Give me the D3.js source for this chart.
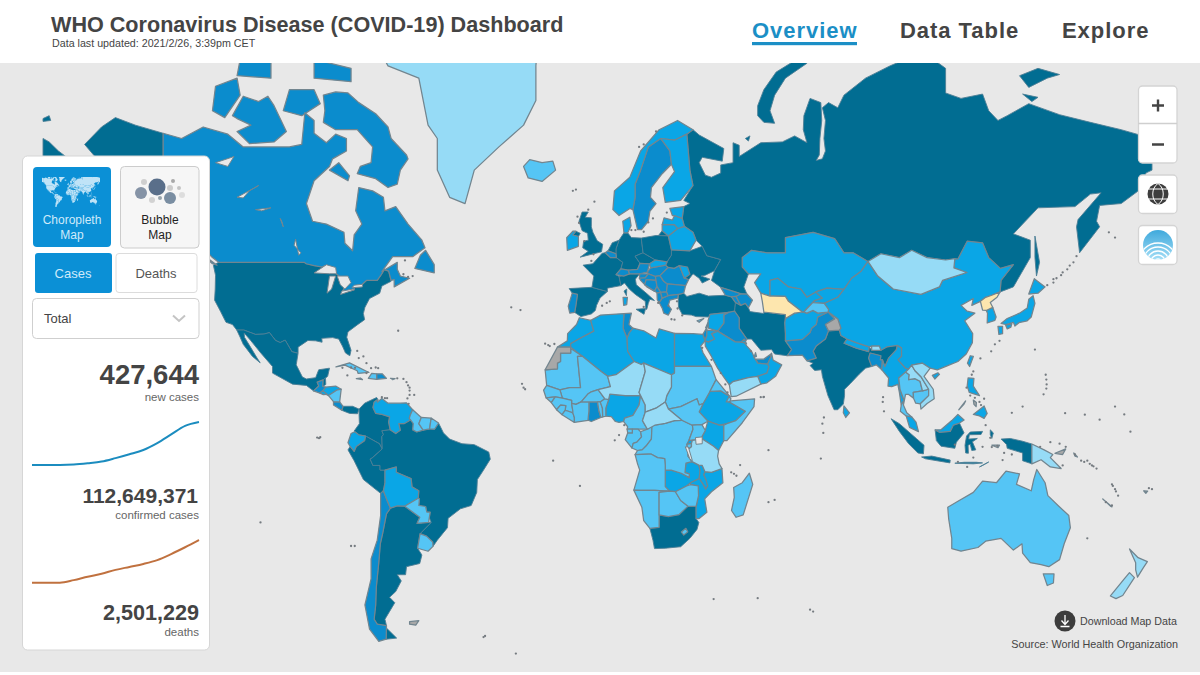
<!DOCTYPE html>
<html><head><meta charset="utf-8">
<script src="https://cdn.jsdelivr.net/npm/d3@7/dist/d3.min.js"></script>
<style>
html,body{margin:0;padding:0;background:#fff}
svg{display:block;font-family:"Liberation Sans",Arial,sans-serif}
</style></head><body><svg id="c" width="1200" height="675"></svg>
<script>
// ---------- DATA ----------
const titleText="WHO Coronavirus Disease (COVID-19) Dashboard";
const updatedText="Data last updated: 2021/2/26, 3:39pm CET";
const navItems=["Overview","Data Table","Explore"];
const statValues=["427,644","112,649,371","2,501,229"];
const statLabels=["new cases","confirmed cases","deaths"];
const trendCases=[0,0,0,1,4,8,16,25,35,51,71,91,100];
const trendDeaths=[0,0,0,6,14,21,30,37,44,53,67,83,100];

// Country outlines as [lon,lat] rings, grouped by choropleth bin: [name, ring, ring...]
const binHighest=[
["United States",[[-124.7,48.4],[-123,49],[-95.2,49],[-94.6,48.7],[-92,48.3],[-89.5,48],[-88.4,48.3],[-84.8,46.5],[-82.5,45.3],[-82.1,43.5],[-83,42],[-79,42.8],[-79,43.3],[-76.5,44],[-75,45],[-71.5,45],[-70.3,46.2],[-69.2,47.4],[-67.8,47.1],[-67,44.8],[-70,43.7],[-70.7,42],[-74,40.7],[-75.5,38.5],[-76,36.9],[-75.6,35.3],[-78,33.9],[-81,32],[-81.4,30.5],[-80,26.8],[-80.4,25.2],[-81.8,26],[-82.8,28],[-84,30],[-86,30.4],[-89.5,30.2],[-89.4,29.1],[-91.5,29.5],[-94,29.6],[-97.2,27.7],[-97.2,25.9],[-99.2,26.4],[-101.4,29.7],[-103,29],[-104.5,29.6],[-106.5,31.8],[-108.2,31.4],[-111,31.3],[-114.8,32.5],[-117.1,32.5],[-118.5,34],[-120.6,34.6],[-122.4,37.5],[-124.3,40.3],[-124.1,43],[-124,46.2]],
 [[-141,69.6],[-141,60.3],[-137.5,58.9],[-135,59.5],[-130,55],[-133,55.2],[-136,58],[-140,59.7],[-146,60.8],[-151,59.3],[-153,58.5],[-158,56.5],[-164,54.7],[-160,58.5],[-162,60],[-165.5,61.5],[-164,63.2],[-161,64.4],[-166,64.6],[-168,65.6],[-162.5,66.5],[-166.5,68.3],[-161,70.3],[-156.5,71.3],[-150,70.5]]],
["Mexico",[[-117.1,32.5],[-114.8,32.5],[-111,31.3],[-108.2,31.4],[-106.5,31.8],[-104.5,29.6],[-103,29],[-101.4,29.7],[-99.2,26.4],[-97.2,25.9],[-97.8,22.5],[-95.8,18.8],[-94.5,18.2],[-91.5,18.6],[-90.5,21],[-87,21.5],[-87.6,19],[-88.3,18.5],[-89.1,17.9],[-91,17.2],[-90.5,16],[-92.2,14.5],[-94.5,16.2],[-99,16.6],[-105.5,20],[-105.5,22],[-109.3,26],[-112.5,29.5],[-114.7,31.7],[-114.6,30.5],[-112.5,27.5],[-110.5,24.5],[-109.5,23.1],[-112,25],[-115,28.5],[-116,30.5]]],
["Panama",[[-83,8.3],[-82.6,9.6],[-79.5,9.6],[-77.4,8.7],[-77.9,7.2],[-80.4,7.3],[-81.5,7.7]]],
["Belize",[[-89.1,17.9],[-88.3,18.5],[-88.2,16.5],[-89.2,15.9]]],
["Colombia",[[-77.4,8.7],[-75.6,10.6],[-71.7,12.4],[-71.3,11.8],[-72.5,11],[-72.9,9.2],[-72,7.3],[-70,7],[-67.5,6.2],[-67.8,4.5],[-67.3,2],[-70,1.7],[-69.5,0.5],[-70,-0.2],[-69.9,-4.2],[-70.8,-2.5],[-73.5,-1],[-75.3,0],[-77.5,0.4],[-79,1.6],[-77.3,4],[-77.4,7]]],
["Peru",[[-81,-4.5],[-80.3,-3.4],[-79,-5],[-78.3,-3.4],[-75.6,-1.5],[-75.3,0],[-73.5,-1],[-70.8,-2.5],[-69.9,-4.2],[-73,-7],[-73.8,-7.5],[-72.9,-9.5],[-70.6,-9.5],[-70.6,-11],[-69,-11],[-69,-15],[-69.5,-17.5],[-70.4,-18.3],[-76,-14],[-79,-8]]],
["Brazil",[[-51.6,4.2],[-50,1],[-48,-1],[-44,-2.5],[-40,-2.8],[-35.3,-5.2],[-34.8,-7.5],[-37,-11],[-39,-14],[-39.2,-18],[-41,-22],[-44.5,-23],[-48.5,-25.8],[-48.7,-28.5],[-52,-32],[-53.4,-33.7],[-53.5,-32.5],[-55.5,-30.9],[-57.6,-30.2],[-54,-27],[-54.6,-25.6],[-54.3,-24],[-55.4,-24],[-55.8,-22.3],[-58,-22],[-57.8,-20],[-58.2,-19.8],[-58,-17.5],[-60.2,-16.3],[-60.5,-13.7],[-65.3,-11.7],[-65.3,-10],[-69,-11],[-70.6,-11],[-70.6,-9.5],[-72.9,-9.5],[-73.8,-7.5],[-73,-7],[-69.9,-4.2],[-70,-0.2],[-69.5,0.5],[-70,1.7],[-67.3,2],[-65.5,0.8],[-64,1.9],[-64.5,4],[-62.8,4],[-60.7,5.2],[-59.8,4],[-60,2],[-58.7,1.3],[-56.6,1.9],[-54.5,2.3],[-52.9,2.2]]],
["Argentina",[[-67.2,-22.8],[-65,-22.1],[-62.6,-22.2],[-57.7,-25.5],[-58.6,-27.3],[-54.8,-27],[-54,-27],[-57.6,-30.2],[-58.4,-34.2],[-57,-36],[-57.7,-38.2],[-62,-39],[-62.3,-41],[-65,-41],[-63.7,-42.5],[-65.5,-45],[-67.5,-46.3],[-65.8,-47.5],[-69,-51],[-68.5,-52.3],[-71.5,-52],[-72.5,-51],[-72,-48],[-71.8,-44],[-71,-38],[-70.5,-33],[-69.7,-30],[-68.5,-24.5]],
 [[-68.6,-52.7],[-65.2,-54.7],[-68.6,-54.9]]],
["South Africa",[[17,-28.7],[20,-28.4],[20,-24.8],[23,-25.3],[26.5,-24.7],[29.4,-22.2],[32,-22.3],[32,-25.9],[32.9,-27],[32.3,-29],[30,-31.5],[27,-33.8],[22,-34.2],[18.5,-34.3],[18,-32]]],
["Spain",[[-9.2,43.1],[-1.8,43.4],[3.2,42.4],[0.8,40.8],[-0.3,39],[-0.7,37.7],[-2,36.8],[-5.4,36.1],[-7.4,37.2],[-7,39],[-6.5,41.7],[-8.2,42]]],
["France",[[-1.8,43.4],[-1.2,46],[-4.7,48.4],[-1.5,48.7],[1.5,50.9],[2.5,51],[4.2,50],[6.1,50],[8.2,49],[7.6,47.6],[6,46.3],[7,45.9],[7.6,43.8],[3.2,43.2],[3.2,42.4]],[[8.6,42.5],[9.5,43],[9.4,41.4]]],
["United Kingdom",[[-5.6,50.1],[1.3,51.2],[1.7,52.7],[-0.1,53.4],[-1.5,55],[-2,56],[-2,57.6],[-4,57.7],[-3,58.6],[-5,58.6],[-6,57],[-5,55.3],[-3.2,54.8],[-3,53.5],[-4.5,53.3],[-4.8,52],[-3,51.3]],[[-8,54.5],[-6.2,54.2],[-5.6,54.8],[-7,55.2]]],
["Germany",[[6,51.8],[7,53.5],[8.6,54.9],[9.8,54.9],[11,54],[14.2,53.9],[14.8,51],[12.2,50.3],[13.8,48.8],[13,47.5],[10,47.3],[7.6,47.6],[8.2,49],[6.1,50],[6,50.8]]],
["Netherlands",[[3.4,51.4],[4.8,53],[7,53.5],[6,51.8],[6,50.8]]],
["Italy",[[7,45.9],[10.4,46.5],[13.7,46.5],[12.3,45.3],[12.6,44],[16,41.9],[18.5,40.2],[17,40.5],[16.5,39.5],[16,38],[15.7,38],[15.5,40],[12.3,41.7],[10.3,43],[8.8,44.4],[7.6,43.8]],[[12.5,38],[15.6,38.2],[15.1,36.7]]],
["Czechia",[[12.2,50.3],[14.8,51],[18.8,49.5],[16.9,48.7],[13.8,48.8]]],
["Poland",[[14.2,53.9],[19,54.4],[23,54.3],[24,51.6],[24,50.5],[22.6,49.1],[18.8,49.5],[14.8,51]]],
["Ukraine",[[22.1,48.4],[22.6,49.1],[24,50.5],[24,51.6],[30,51.4],[34,52.3],[35.5,50.4],[40,49.6],[38,47.2],[35,46.2],[33.6,46],[36.5,45.3],[34,44.4],[33,45.5],[31,46.5],[29.6,45.2],[28.2,45.5],[26.6,48.3],[24.9,47.7],[22.9,47.9]]],
["Russia",[[28,59.5],[30,60],[28,60.5],[31,62.8],[30,65],[29,69.5],[31,70],[33,69.4],[41,67.8],[40.5,66.2],[34,66.7],[33,66],[35,64.3],[37,64],[40,64.6],[40,65.7],[44,66],[44,68.5],[46,68.2],[46,66.8],[53,68.5],[60,68.6],[64,69.3],[68,68.5],[66.8,70],[67,71.5],[69,73.2],[72.5,72.8],[72.8,71],[72.2,69],[72,67],[71,66.3],[73,66.5],[74,67.5],[73.5,69],[74,71],[73,72.3],[75,72.8],[78,72.3],[80,73.5],[87,75],[95,76],[100,76.5],[104,77.7],[106,77],[113,75.8],[113,73.7],[118,73.2],[125,73.6],[127,72],[130,71],[133,71.5],[140,72.7],[150,71.6],[160,70.8],[170,70],[180,69],[180,65],[178,64.6],[177,62.5],[170,60],[163,59.7],[162,57],[163,56],[156.5,51],[155.5,56],[156,57.3],[163.5,61.7],[160,61.5],[155,59.5],[143,59.3],[135,54.7],[140.5,53.5],[140.5,50],[135,43.5],[130.7,42.3],[131,45],[135,48.5],[130.8,47.7],[127,50],[125,53],[120,53.3],[117,49.7],[113,49.5],[107,50],[102,51.5],[98,50],[92,50.8],[87.8,49.2],[83,51],[80,51],[77,53.8],[70,55],[61,54],[61,51],[55,51],[50,51.5],[47,50],[47,48],[49,46.5],[47.5,43.5],[48.5,41.8],[46,42],[40,43.4],[37,45],[38,47.2],[40,49.6],[35.5,50.4],[34,52.3],[32,53.5],[31,55],[28.2,56.1],[27.5,57.5]],
 [[52,71.5],[52,72.5],[54,74],[58,75.5],[64,76.4],[68.8,76.9],[68,76.2],[61,75],[57.5,73.5],[56,72],[57.5,70.7],[54,70.8]],[[142,54.3],[143.5,49],[142.5,46],[142,50]],[[19.8,54.4],[22.8,54.4],[21,55.3]],[[48,69],[49.5,69.3],[49,68.7]],[[96,80],[105,78.5],[100,78]],[[137,75.2],[143,75.8],[150,75.3],[146,75],[140,74.2]],[[138,73.6],[143,73.3],[141,72.9]],
 [[-180,69],[-178,68.6],[-175,67.5],[-170,66],[-172.5,64.5],[-176,65.3],[-178,65.5],[-180,65]],[[-180,71.2],[-178,71.5],[-177.5,71],[-180,70.9]]],
["Turkey",[[26.3,41.7],[28,42],[29,41.2],[33,42],[36,41.3],[41.5,41.5],[43.5,41.1],[44.8,39.7],[44.5,37.5],[42.5,37.2],[36.5,36.7],[36,36],[32,36.1],[30.5,36.5],[27.5,36.7],[26.3,38.5],[26.2,40]]],
["Iran",[[44.8,39.7],[46.5,39],[48,39.5],[49,38.4],[49.5,37.4],[54,36.9],[54,37.3],[61,36.6],[61,35.6],[60.8,34.5],[61,31.5],[61,29.5],[63,27],[61.6,25.2],[57.5,25.7],[56.5,27],[53,26.8],[50,30],[48.5,30],[46,33],[46,35.8],[44.5,37.5]]],
["India",[[75,32.3],[78.5,32.5],[79,31],[81,30],[80,28.8],[84,27.4],[88,26.4],[88.2,27.8],[89,26.8],[92,26.8],[94,27.8],[97.3,28.2],[97,27],[94.5,24.5],[93.3,22],[92.5,24],[91.8,24],[92,25.2],[88.5,26],[88,24.5],[89,22],[87,21.5],[85,19.7],[82,16.7],[80.2,15],[80.2,13],[79.8,10.3],[78,8.5],[76.8,8.5],[74.8,13],[73,19],[72.7,21],[70.5,20.8],[69,22.3],[70,23],[68,23.7],[71,24.5],[70,26.5],[71,28],[74,30]]],
["Indonesia",[[109.6,2],[111,1.2],[114.5,1.5],[115.5,3.5],[117.5,4.2],[119,1],[116.5,-2],[116,-4],[111.5,-3.3],[110,-1.5]],[[95.3,5.6],[98,4],[103.5,-0.8],[106,-3],[105.8,-5.8],[104,-5.5],[101,-2.5],[98,1.5]],[[105.2,-6.8],[108.5,-6.5],[114.5,-7.8],[114.4,-8.7],[106.5,-7.4]],[[119.5,-5.5],[119.3,-3],[119.8,0],[121,1.3],[125,1.5],[124.5,0.5],[120.7,0.4],[120.5,-1],[123.3,-0.8],[121.7,-1.9],[122.8,-4.5],[121.5,-4.7],[121,-2.7],[120.3,-3],[120.4,-5.6]],[[131,-1],[134,-0.8],[138,-1.7],[141,-2.6],[141,-9],[138,-8],[138,-5.5],[133,-4],[132.8,-2.8]],[[116,-8.8],[119,-8.5],[123,-8.5],[125,-8.7],[122,-9]],[[124,-10],[127,-8.4],[125,-9.5]],[[127.5,2],[128.5,1],[128,-0.8],[127.5,0.5]]]
];
const binHigh=[
["Canada",[[-141,69.6],[-135,69],[-128,70.3],[-120,69.5],[-115,68],[-108,68],[-100,68],[-96,68.3],[-95,71.8],[-92,71],[-92,69.6],[-88,68.5],[-85,69.5],[-81.5,69],[-81.5,67.5],[-86,66.5],[-87,65.5],[-92,63.5],[-94.5,60],[-92.5,57],[-88,56.5],[-82.3,55],[-82,52.9],[-79.5,51.4],[-79,54.5],[-76.5,56.5],[-78.5,58.8],[-77.5,62.5],[-73,62],[-69.5,61],[-69,58.8],[-65.5,59.5],[-61.5,56.5],[-57,53.5],[-56,52],[-60,50.2],[-66.5,50.2],[-70,47],[-65,49],[-65,47.5],[-64,46],[-61,45.5],[-66,43.5],[-66,45.2],[-67,45],[-67.8,47.1],[-69.2,47.4],[-70.3,46.2],[-71.5,45],[-75,45],[-76.5,44],[-79,43.3],[-79,42.8],[-83,42],[-82.1,43.5],[-82.5,45.3],[-84.8,46.5],[-88.4,48.3],[-89.5,48],[-92,48.3],[-94.6,48.7],[-95.2,49],[-123,49],[-125,50],[-128,52],[-130,55],[-135,59.5],[-137.5,58.9],[-141,60.3]],
 [[-89,73.5],[-85,73.8],[-81,73.7],[-77.5,72.8],[-72,71.7],[-68,70.3],[-67,69],[-62,67],[-61.5,66.5],[-64,65],[-65,63],[-68,62.5],[-72,63.8],[-78,64.5],[-77,65.5],[-73.5,66],[-73,68],[-78,70],[-85,70],[-89,70.8],[-88.5,72]],[[-118.5,71.5],[-115,73.4],[-110,72.9],[-107,73.4],[-105,72.5],[-101,69.8],[-105,68.6],[-113,68.4],[-117,69.8],[-112.5,70.5],[-117,71.2]],[[-125,72],[-121,71.3],[-116,73.5],[-117,75],[-124,74.3]],[[-90,76.5],[-80,76.3],[-75,78.5],[-65,81.5],[-62,83],[-75,83],[-90,82],[-90,80]],[[-92,75],[-80,74.7],[-80,75.8],[-92,76.5]],[[-117,75.2],[-106,75],[-106,76.5],[-116,76.5]],[[-102,72],[-96,71.5],[-90,72.7],[-92,74],[-100,74]],[[-87,65],[-81,63.5],[-80.5,64.2],[-84,66]],[[-59.3,47.7],[-53,46.7],[-53,48.5],[-55.8,51.5],[-57.5,50.5]],[[-128.3,50.7],[-123.5,48.4],[-125,48.7]],[[-133,54],[-131.5,52.5],[-131.8,54]],[[-95,80],[-88,78.5],[-87,81],[-95,81]]],
["Guatemala",[[-92.2,14.5],[-90.5,16],[-91,17.2],[-89.1,17.9],[-89.2,15.9],[-88.2,15.7],[-89.2,14.5],[-90.1,13.8]]],
["Costa Rica",[[-85.7,11.1],[-83.7,11],[-82.6,9.6],[-83,8.3],[-85.7,10]]],
["Dominican Republic",[[-71.7,18.1],[-68.5,18.4],[-69.9,19.8],[-71.7,19.8]]],
["Chile",[[-69.5,-17.5],[-68.5,-20],[-67.2,-22.8],[-68.5,-24.5],[-69.7,-30],[-70.5,-33],[-71,-38],[-71.8,-44],[-72,-48],[-72.5,-51],[-71.5,-52],[-68.5,-52.3],[-68.6,-54.9],[-71,-55.3],[-74,-53],[-75.5,-48],[-73.5,-42],[-73.5,-37],[-71.5,-32],[-70.4,-25],[-70.4,-18.3]]],
["Portugal",[[-8.2,42],[-6.5,41.7],[-7,39],[-7.4,37.2],[-9,37],[-9.5,38.8]]],
["Sweden",[[11.5,59],[13,55.5],[14.3,55.5],[16.5,57],[17,58.7],[19,60],[17.2,61],[17.5,62.5],[21,64.5],[24,65.8],[23.5,67.5],[20.5,69],[16.5,68],[14,65],[12.2,63],[12.2,61]]],
["Belgium",[[2.5,51],[3.4,51.4],[6,50.8],[6.1,50],[4.2,50]]],
["Switzerland",[[6,46.3],[7.6,47.6],[10,47.3],[10.4,46.5],[8.5,46]]],
["Austria",[[10,47.3],[13,47.5],[13.8,48.8],[16.9,48.7],[16.2,46.9],[13.7,46.5],[10.4,46.5]]],
["Hungary",[[16.2,46.9],[17.2,47.8],[22.1,48.4],[22.9,47.9],[20.3,46.1],[18.8,45.9],[16.5,46.5]]],
["Slovenia",[[13.7,46.5],[16.5,46.5],[15.5,45.6],[13.6,45.5]]],
["Croatia",[[13.6,45.5],[15.5,45.6],[16.5,46.5],[18.8,45.9],[19,45],[15.8,45.2],[15.3,44],[18.5,42.5],[16,43.5],[14,45]]],
["Bosnia",[[15.8,45.2],[19,45],[19.3,43.6],[18.5,42.5],[15.3,44]]],
["Serbia",[[18.8,45.9],[20.3,46.1],[21.5,44.8],[22.7,44.2],[22.4,42.3],[20.5,42.2],[19.3,43.6],[19,45]]],
["Romania",[[20.3,46.1],[22.9,47.9],[24.9,47.7],[26.6,48.3],[28.2,45.5],[29.6,45.2],[28.6,43.8],[22.7,44.2],[21.5,44.8]]],
["Bulgaria",[[22.7,44.2],[28.6,43.8],[28,42],[26.3,41.7],[22.9,41.4],[22.4,42.3]]],
["Greece",[[20,39.7],[21,40.8],[22.9,41.4],[26.3,41.7],[26,40.8],[23.5,40.3],[23,39],[24,38],[23,36.5],[21.5,37],[21,38.3]]],
["Albania",[[19.3,42.1],[20.5,42.2],[21,40.8],[20,39.7],[19.4,40.4]]],
["North Macedonia",[[20.5,42.2],[22.4,42.3],[22.9,41.4],[21,40.8]]],
["Montenegro",[[18.5,42.5],[19.3,43.6],[20.5,42.2],[19.3,42.1]]],
["Georgia",[[40,43.4],[46,42],[46.5,41.8],[45,41.2],[43.5,41.1],[41.5,41.5]]],
["Armenia",[[43.5,41.1],[45,41.2],[46.5,39],[44.8,39.7]]],
["Azerbaijan",[[45,41.2],[46.5,41.8],[48.5,41.8],[50.3,40.3],[49,38.4],[48,39.5],[46.5,39]]],
["Iraq",[[42.5,37.2],[44.5,37.5],[46,35.8],[46,33],[48.5,30],[47.7,29],[46.5,29.1],[44.7,29.2],[39,32.2],[41,34.4],[41,36.5]]],
["Israel",[[34.2,31.3],[35.5,33.2],[35.5,31],[34.9,29.5]]],
["Lebanon",[[35.1,33.1],[35.9,34.6],[36.5,34.4],[35.5,33.2]]],
["UAE",[[51.5,24.2],[54,24.2],[56.3,25.7],[56.3,24.9],[55.2,22.7],[52,23]]],
["Pakistan",[[61,29.5],[66.5,29.9],[69,31.8],[69.5,33],[71,34],[71.5,36],[74.9,37.3],[77,35.5],[74,34],[75,32.3],[74,30],[71,28],[70,26.5],[71,24.5],[68,23.7],[66.5,25.4],[61.6,25.2],[63,27]]],
["Bangladesh",[[88.5,26],[92,25.2],[91.8,24],[92.5,24],[92.3,21],[90.5,22.5],[89,22],[88,24.5]]],
["Ghana",[[-3.1,5.1],[-2,4.7],[1.1,6],[0.5,8],[0,11],[-2.8,11],[-2.8,8]]],
["Tunisia",[[8.6,36.9],[11,37],[10.2,34],[11.5,33],[10.3,31.7],[9.6,30.2],[8.3,33]]]
];
const binMid=[
["Honduras",[[-89.2,14.5],[-88.2,15.7],[-85,16],[-83.2,15],[-84.7,14.7],[-87.3,13],[-89.2,14]]],
["El Salvador",[[-90.1,13.8],[-89.2,14.5],[-87.8,13.4],[-89,13.3]]],
["Venezuela",[[-72.5,11],[-71.3,11.8],[-71.5,10.9],[-70,12.1],[-68,10.6],[-64,10.6],[-62,10.7],[-60,8.5],[-60.7,7],[-61.1,5.7],[-60.7,5.2],[-62.8,4],[-64.5,4],[-64,1.9],[-65.5,0.8],[-67.3,2],[-67.8,4.5],[-67.5,6.2],[-70,7],[-72,7.3],[-72.9,9.2]]],
["Ecuador",[[-80,0.8],[-78.8,1.4],[-77.5,0.4],[-75.3,0],[-75.6,-1.5],[-78.3,-3.4],[-79,-5],[-80.3,-3.4],[-81,-2.2]]],
["Bolivia",[[-69,-11],[-65.3,-10],[-65.3,-11.7],[-60.5,-13.7],[-60.2,-16.3],[-58,-17.5],[-58.2,-19.8],[-62.6,-22.2],[-65,-22.1],[-67.2,-22.8],[-68.5,-20],[-69.5,-17.5],[-69,-15]]],
["Morocco",[[-13,27.7],[-9.8,29.5],[-9.7,31.5],[-6.8,34],[-5.9,35.8],[-2.2,35.1],[-1.2,32.2],[-5,30.5],[-8.7,28.7],[-8.7,27.7]]],
["Algeria",[[-2.2,35.1],[1,36.5],[8.6,36.9],[8.3,33],[9.6,30.2],[9.8,26.5],[11.9,23.5],[6,19.5],[3.3,19],[1.2,20.5],[-4.8,25],[-8.7,27.7],[-8.7,28.7],[-5,30.5],[-1.2,32.2]]],
["Libya",[[11.5,33],[15,32.3],[19,30.3],[20,32.8],[25,31.6],[25,20],[24,19.5],[15,23],[14.2,22.6],[11.9,23.5],[9.8,26.5],[9.6,30.2],[10.3,31.7]]],
["Egypt",[[25,31.6],[31,31.5],[34.2,31.3],[34.9,29.5],[33.5,28],[34.3,26],[37,22],[25,22]]],
["Ethiopia",[[36.5,14.3],[40,14.5],[43,12.7],[42.7,11],[48,8],[44.9,5],[42,4],[39.5,3.5],[35.8,4.8],[33,7.8],[34.3,10.5]]],
["Kenya",[[35.8,4.8],[39.5,3.5],[41,3.5],[41,-1.5],[39.3,-4.7],[37.7,-3.3],[34,-1],[34,0],[35,1.8]]],
["Nigeria",[[2.7,6.4],[4.5,6.3],[5.8,4.7],[7,4.4],[8.5,4.7],[8.8,5.8],[11.5,6.7],[13.5,10],[14,13],[9,13],[4,13.5],[3.6,11.7],[2.7,9]]],
["Rwanda",[[29,-1.4],[30.8,-1.4],[30.5,-2.4],[29,-2.7]]],
["Zambia",[[22,-11],[23.9,-11],[27.2,-12],[29.8,-13.4],[29.8,-12.2],[28.4,-11.8],[28.7,-8.8],[30.7,-8.3],[32.9,-9.4],[33.3,-11],[33,-13.7],[30.2,-15],[28.9,-16],[25.3,-17.8],[23.4,-17.6],[22,-16.2],[22,-13]]],
["Malawi",[[32.9,-9.4],[34,-9.5],[34.9,-11.5],[34.5,-12.5],[35.2,-14],[35.8,-16],[35.1,-17],[34.3,-15.5],[33,-13.7],[33.3,-11]]],
["Mozambique",[[40.4,-10.5],[40.7,-15],[37,-17.8],[34.8,-20],[35.5,-24],[32.9,-25.9],[32,-25.9],[32,-22.3],[32.8,-19],[32.7,-16],[30.2,-15.6],[30.2,-15],[33,-13.7],[34.3,-15.5],[35.1,-17],[35.8,-16],[35.2,-14],[34.5,-12.5],[34.9,-11.5],[37,-11.7]]],
["Ireland",[[-10,54],[-8,55.2],[-7,55.2],[-8,54.5],[-6.2,54.2],[-6.2,52.3],[-9.8,51.5]]],
["Norway",[[5,59],[7,58],[10.5,59.2],[11.5,59],[12.2,61],[12.2,63],[14,65],[16.5,68],[20.5,69],[25,68.8],[29,69.5],[31,70],[26,71],[20,70],[14,67.5],[10.5,64],[5.5,62]]],
["Finland",[[22,60.2],[27,60.5],[31,62.8],[30,65],[29,69.5],[25,68.8],[20.5,69],[23.5,67.5],[24,65.8],[25,64.8],[21.2,62.5]]],
["Denmark",[[8.2,57],[10.5,57.7],[10.9,56.2],[9.8,54.9],[8.6,54.9]]],
["Slovakia",[[16.9,48.7],[18.8,49.5],[22.6,49.1],[22.1,48.4],[17.2,47.8]]],
["Moldova",[[26.6,48.3],[29.2,48],[30,46.4],[28.2,45.5]]],
["Belarus",[[23,54.3],[26,55.7],[28.2,56.1],[31,55],[32,53.5],[30,51.4],[24,51.6]]],
["Lithuania",[[21,55.3],[21,56.4],[25,56.4],[26,55.7],[23,54.3],[22.8,54.4]]],
["Latvia",[[21,56.4],[21.6,57.6],[24.3,57.2],[25,58],[27.5,57.5],[28.2,56.1],[26,55.7],[25,56.4]]],
["Estonia",[[23.5,59.2],[28,59.5],[27.5,57.5],[25,58],[24.3,58]]],
["Kazakhstan",[[47,50],[50,51.5],[55,51],[61,51],[61,54],[70,55],[77,53.8],[80,51],[83,51],[87.8,49.2],[85.5,47],[82.5,45.5],[80,42.9],[74.5,43.2],[70.9,42.3],[68,41],[66,43],[62,43.5],[58.5,45.5],[56,45],[56,41.3],[53,42],[51,44.5],[53,46.5],[49,46.5],[47,48]]],
["Uzbekistan",[[56,41.3],[56,45],[58.5,45.5],[62,43.5],[66,43],[68,41],[70.9,42.3],[73,40.8],[70.5,40.2],[68,38.2],[67,37.3],[66.5,37.3],[62,40],[61,41.2],[57,41.3]]],
["Kyrgyzstan",[[70.9,42.3],[74.5,43.2],[80,42.9],[78,41],[73.6,39.5],[70,39.7],[70.5,40.2],[73,40.8]]],
["Afghanistan",[[61,35.6],[64,37],[66.5,37.3],[68,37],[70,37.7],[71.5,37],[74.9,37.3],[71.5,36],[71,34],[69.5,33],[69,31.8],[66.5,29.9],[61,29.5],[61,31.5],[60.8,34.5]]],
["Nepal",[[80,28.8],[81,30],[84,29],[88.2,27.8],[88,26.4],[84,27.4]]],
["Sri Lanka",[[80,9.7],[81.8,7.5],[80.6,6],[79.8,7.5]]],
["Myanmar",[[92.3,21],[92.5,24],[93.3,22],[94.5,24.5],[97,27],[97.3,28.2],[98.7,27.5],[98.7,25],[97.6,24],[100,21.5],[101,21.2],[100,20.3],[97.8,18.5],[98.2,15],[99.5,11.5],[98.6,10],[98,14],[97.5,16.5],[95.5,15.8],[94.3,16],[94.5,18.5]]],
["Malaysia",[[100.2,6.5],[102,6.2],[103.4,4.5],[104.2,1.4],[101.3,2.8]],[[109.6,2],[111.5,2],[115,5],[117,7],[119,5.2],[117.5,4.2],[115.5,3.5],[114.5,1.5],[111,1.2]]],
["Philippines",[[120.3,18.5],[122.2,18.4],[122,16],[124,13],[120.7,14],[120,16]],[[122,7],[125.5,9.7],[126.5,7.3],[125.5,5.7],[124,6.5]]],
["Taiwan",[[121,25.2],[122,25],[120.8,22],[120.1,23]]],
["Japan",[[131,34.3],[133,35.6],[137,37],[139.5,38.3],[140,40.5],[141.4,41.4],[142,39.5],[140.8,36],[139.5,35],[136.8,34.5],[135.5,33.6],[135,34.6],[132.5,34]],[[140,41.8],[141.8,45.4],[145.3,43.5],[143,42]],[[130,33.5],[131.5,33.5],[131.5,31.5],[130.3,31.3]],[[132.5,33.8],[134.5,34.2],[134.2,33.3],[133,32.8]]],
["South Korea",[[126.2,37.7],[128.3,38.5],[129.4,36],[129,35.1],[126.5,34.4],[126.6,37]]],
["China",[[73.6,39.5],[78,41],[80,42.9],[82.5,45.5],[85.5,47],[87.8,49.2],[91,46],[96,43],[105,41.7],[111,43.5],[112,45],[119.9,46.8],[115.7,47.8],[116,49.8],[117,49.7],[120,53.3],[125,53],[127,50],[130.8,47.7],[135,48.5],[131,45],[130.7,42.3],[128,41.5],[126,41],[124.3,40],[121.5,39],[122,40.7],[118,39],[120,37.5],[122.5,37],[119.2,35],[121.8,31.5],[121.7,29],[119.7,25.7],[117,23.5],[113.5,22.2],[110.3,21],[108,21.5],[105.5,23],[102,22.4],[101,21.2],[100,21.5],[97.6,24],[98.7,25],[98.7,27.5],[97.3,28.2],[94,27.8],[92,26.8],[91.5,28],[89,28],[88.2,27.8],[84,29],[81,30],[79,31],[78.5,32.5],[79,33],[78,35.5],[74.9,37.3],[75,38]],[[108.7,19.3],[110.5,20.1],[111,19.6],[109.5,18.2]]],
["Syria",[[36.5,36.7],[42.5,37.2],[41,36.5],[41,34.4],[39,32.2],[36,33],[35.9,35]]],
["Saudi Arabia",[[34.9,29.5],[36,29.2],[38,30],[37,31.5],[39,32.2],[44.7,29.2],[46.5,29.1],[47.7,29],[48.5,28],[50,26.5],[51,24.5],[52,23],[55.2,22.7],[55.7,22],[55,20],[52,19],[49,18.6],[44,17.4],[42.8,16.4],[41,18.8],[39,21.5],[37,25],[35,28]]],
["Oman",[[52,19],[55,20],[55.7,22],[55.2,22.7],[56.3,24.9],[56.5,26],[57,23.9],[59.8,22.5],[57.8,19],[55,17],[53,16.6]]],
["Jordan",[[34.9,29.5],[35.5,31],[35.5,32.5],[39,32.2],[37,31.5],[38,30],[36,29.2]]],
["Kuwait",[[46.5,29.1],[47.7,30],[48.4,28.6],[47.7,29]]],
["Qatar",[[50.8,24.7],[51.3,26.1],[51.6,25]]],
["Sardinia",[[8.3,41],[9.7,41],[9.5,39.2],[8.5,39]]]
];
const binLow=[
["Nicaragua",[[-87.3,13],[-84.7,14.7],[-83.2,15],[-83.7,11],[-85.7,11.1]]],
["Cuba",[[-84.9,21.9],[-80.5,23.1],[-74.2,20.2],[-77.7,19.9],[-78,20.7],[-82,22.4]]],
["Haiti",[[-74.4,18.4],[-71.7,18.1],[-71.7,19.8],[-73.3,19.9]]],
["Jamaica",[[-78.3,18.3],[-76.3,18],[-77,18.5]]],
["Puerto Rico",[[-67.2,18.4],[-65.7,18.3],[-66.5,18]]],
["Guyana",[[-60,8.5],[-57.2,6],[-58,4],[-56.6,1.9],[-58.7,1.3],[-60,2],[-59.8,4],[-60.7,5.2],[-61.1,5.7],[-60.7,7]]],
["Suriname",[[-57.2,6],[-54,5.8],[-54.5,2.3],[-56.6,1.9],[-58,4]]],
["French Guiana",[[-54,5.8],[-51.6,4.2],[-52.9,2.2],[-54.5,2.3]]],
["Paraguay",[[-58.2,-19.8],[-57.8,-20],[-58,-22],[-55.8,-22.3],[-55.4,-24],[-54.3,-24],[-54.6,-25.6],[-54.8,-27],[-58.6,-27.3],[-57.7,-25.5],[-62.6,-22.2]]],
["Uruguay",[[-57.6,-30.2],[-55.5,-30.9],[-53.5,-32.5],[-53.4,-33.7],[-55,-35],[-58.4,-34.2]]],
["Iceland",[[-24,65.5],[-22,66.4],[-18,66],[-14.5,66.2],[-13.6,65],[-18,63.4],[-22.5,63.9]]],
["Mauritania",[[-17,21],[-13,21.3],[-13,23],[-12,23.5],[-12,26],[-8.7,26],[-8.7,27.3],[-4.8,25],[-6.5,25],[-5.5,15.5],[-9,15.5],[-12.2,14.8],[-16.5,16.2]]],
["Mali",[[-12.2,14.8],[-9,15.5],[-5.5,15.5],[-6.5,25],[-4.8,25],[1.2,20.5],[3.3,19],[4.2,15.8],[0.2,14.9],[-2,14.2],[-3,13.6],[-5.3,11],[-7,10.2],[-8.4,10.5],[-8.4,11.5],[-11.4,12.2]]],
["Senegal",[[-17.5,14.7],[-16.5,16.2],[-12.2,14.8],[-11.4,12.2],[-13.7,12.6],[-16.7,12.3]]],
["Guinea-Bissau",[[-16.7,12.3],[-15,10.8],[-13.7,12.6]]],
["Guinea",[[-15,10.8],[-13.3,8.5],[-12,10],[-10.3,9.8],[-10.5,8.3],[-9.5,8],[-8,7.5],[-8,8],[-8.4,10.5],[-8.4,11.5],[-11.4,12.2],[-13.7,12.6]]],
["Sierra Leone",[[-13.3,8.5],[-11.5,6.9],[-10.5,8.3],[-10.3,9.8],[-12,10]]],
["Liberia",[[-11.5,6.9],[-7.5,4.4],[-7.5,6],[-8,7.5],[-9.5,8],[-10.5,8.3]]],
["Ivory Coast",[[-7.5,4.4],[-3.1,5.1],[-2.8,8],[-2.8,11],[-5.3,11],[-7,10.2],[-8.4,10.5],[-8,8],[-8,7.5],[-7.5,6]]],
["Burkina Faso",[[-5.3,11],[-3,13.6],[-2,14.2],[0.2,14.9],[2.4,12],[0.9,11],[0,11],[-2.8,11]]],
["Togo",[[1.1,6],[1.7,6.2],[1.6,9],[0.9,11],[0,11],[0.5,8]]],
["Benin",[[1.7,6.2],[2.7,6.4],[2.7,9],[3.6,11.7],[2.4,12],[0.9,11],[1.6,9]]],
["Cameroon",[[8.5,4.7],[9.8,3],[9.6,2.2],[11.3,2.2],[13.2,2.2],[16.2,2.2],[14.6,5],[15.5,7.7],[15.5,10],[14,13],[13.5,10],[11.5,6.7],[8.8,5.8]]],
["Gabon",[[9,-1.2],[9.8,1],[11.3,1],[11.3,2.2],[13.2,2.2],[14,1.4],[14.3,-0.3],[12.8,-2],[11.6,-2.4],[11.2,-3.9]]],
["Equatorial Guinea",[[9.8,1],[9.6,2.2],[11.3,2.2],[11.3,1]]],
["Congo",[[11.2,-3.9],[13,-4.7],[14.5,-4.5],[16,-3],[17.5,-1],[17.7,3.6],[16.2,2.2],[14,1.4],[14.3,-0.3],[12.8,-2],[11.6,-2.4]]],
["DR Congo",[[12.2,-6],[13,-4.7],[14.5,-4.5],[16,-3],[17.5,-1],[17.7,3.6],[18.6,3.5],[22,4.1],[25,5],[27.4,5.1],[30.8,3.5],[31,2.2],[29.7,-1.4],[29,-2.7],[29.4,-4.4],[29.4,-6.5],[30.7,-8.3],[28.7,-8.8],[28.4,-11.8],[29.8,-12.2],[29.8,-13.4],[27.2,-12],[23.9,-11],[22,-11],[22,-9.5],[21.8,-7.3],[19.5,-7],[17.5,-5.9],[16.5,-5.9]]],
["Sudan",[[24,19.5],[25,20],[25,22],[37,22],[38.5,18],[36.5,14.3],[34.3,10.5],[33,10],[32.3,12],[27,9.5],[23,8.7],[22,11],[22.5,13],[24,15.7]]],
["South Sudan",[[23,8.7],[27,9.5],[32.3,12],[33,10],[34.3,10.5],[33,7.8],[35.8,4.8],[33.9,3.7],[30.8,3.5],[27.4,5.1]]],
["Eritrea",[[36.5,14.3],[38.5,18],[43,12.7],[40,14.5]]],
["Djibouti",[[42.7,12.7],[43.3,12],[43,11],[41.8,11]]],
["Somalia",[[42.7,11],[43.3,11.3],[51,12],[50.8,9.5],[47,4.3],[42,-1.5],[41,-1.5],[41,3.5],[42,4],[44.9,5],[48,8]]],
["Uganda",[[30.8,3.5],[33.9,3.7],[35,1.8],[34,0],[34,-1],[29.7,-1.4],[31,2.2]]],
["Burundi",[[29,-2.7],[30.5,-2.4],[30.5,-3.5],[29.4,-4.4]]],
["Angola",[[12.2,-6],[16.5,-5.9],[17.5,-5.9],[19.5,-7],[21.8,-7.3],[22,-9.5],[22,-11],[22,-13],[22,-16.2],[23.4,-17.6],[18.5,-17.4],[14,-17.4],[11.8,-17.3],[13.7,-11],[13,-9]]],
["Namibia",[[11.8,-17.3],[14,-17.4],[18.5,-17.4],[23.4,-17.6],[20,-18],[20,-22],[20,-28.4],[17,-28.7],[15,-26.5],[14.4,-22.5]]],
["Botswana",[[20,-18],[23.4,-17.6],[25.3,-17.8],[27,-20.5],[29.4,-22.2],[26.5,-24.7],[23,-25.3],[20,-24.8],[20,-22]]],
["Zimbabwe",[[25.3,-17.8],[28.9,-16],[30.2,-15.6],[32.7,-16],[32.8,-19],[32,-22.3],[29.4,-22.2],[27,-20.5]]],
["Lesotho",[[27.2,-29.7],[28.7,-28.7],[29.3,-29.7],[28,-30.6]]],
["Madagascar",[[49.3,-12],[50.4,-15.5],[47.3,-24.8],[45,-25.5],[43.5,-23.5],[44.4,-19.5],[44.2,-16.5],[47,-15]]],
["Tajikistan",[[68,38.2],[70.5,40.2],[70,39.7],[73.6,39.5],[75,38],[74.9,37.3],[71.5,37],[70,37.7],[68,37],[67,37.3]]],
["Thailand",[[100,20.3],[101.2,19.5],[101,18],[103,18.3],[104.7,17.5],[105.5,14.5],[102.5,14],[102.6,12.2],[100.9,13.4],[100,13.4],[99.3,10],[100.4,7.5],[102,6.2],[100.2,6.5],[98.3,8],[98.6,10],[99.5,11.5],[98.2,15],[97.8,18.5]]],
["Cambodia",[[102.6,12.2],[102.5,14],[105.5,14.5],[107.5,15],[107.5,13],[104.8,10.4],[103.3,10.6]]],
["Cyprus",[[32.3,35],[34.5,35.6],[33,34.6]]],
["Australia",[[113.7,-22.5],[114,-26],[115,-31.5],[115,-34.3],[118,-35],[123.5,-34],[126,-32.3],[131,-31.5],[135,-34.7],[137.8,-33],[138,-35.5],[140.5,-38],[144,-38.5],[146.5,-39],[150,-37.2],[151.5,-33],[153.5,-28.5],[153,-25],[149.5,-22],[146.2,-19],[145.3,-15],[142.6,-10.8],[141.6,-14],[140.8,-17.5],[136,-15.5],[137,-12.2],[132.6,-11.3],[129.5,-15],[125,-14.5],[122,-18],[117,-20.7]],[[144.7,-40.8],[148.2,-40.8],[148,-43],[146,-43.6]]]
];
const binLowest=[
["Greenland",[[-68,76],[-73,78],[-65,81],[-35,83.5],[-18,81],[-20,76],[-20,73],[-24,70.5],[-32,68],[-40,65],[-43,60],[-48,61],[-52,65],[-52,69],[-55,70.5],[-58,75]]],
["Niger",[[3.3,19],[6,19.5],[11.9,23.5],[14.2,22.6],[15,23],[15.5,20.5],[13.5,14],[14,13],[9,13],[4,13.5],[3.6,11.7],[2.4,12],[0.2,14.9],[4.2,15.8]]],
["Chad",[[15,23],[24,19.5],[24,15.7],[22.5,13],[22,11],[19,9],[15.5,7.7],[15.5,10],[14,13],[13.5,14],[15.5,20.5]]],
["Central African Republic",[[15.5,7.7],[19,9],[22,11],[23,8.7],[27.4,5.1],[25,5],[22,4.1],[18.6,3.5],[16.2,2.2],[14.6,5]]],
["Tanzania",[[29.4,-6.5],[29.4,-4.4],[30.5,-3.5],[30.5,-2.4],[30.8,-1.4],[34,-1],[37.7,-3.3],[39.3,-4.7],[39,-6.5],[39.5,-9],[40.4,-10.5],[37,-11.7],[34.9,-11.5],[34,-9.5],[32.9,-9.4],[30.7,-8.3]]],
["Yemen",[[42.8,16.4],[44,17.4],[49,18.6],[52,19],[53,16.6],[45,12.8],[43.4,12.7]]],
["Mongolia",[[87.8,49.2],[92,50.8],[98,50],[102,51.5],[107,50],[113,49.5],[116,49.8],[115.7,47.8],[119.9,46.8],[112,45],[111,43.5],[105,41.7],[96,43],[91,46]]],
["Bhutan",[[89,26.8],[92,26.8],[91.5,28],[89,28]]],
["Laos",[[101,21.2],[102,22.4],[103,20.8],[105,18.9],[107.5,15],[105.5,14.5],[104.7,17.5],[103,18.3],[101,18],[101.2,19.5],[100,20.3]]],
["Vietnam",[[102,22.4],[105.5,23],[108,21.5],[106,19],[109,15],[109.3,12],[107,10.5],[105,8.7],[104.8,10.4],[107.5,13],[107.5,15],[105,18.9],[103,20.8]]],
["Papua New Guinea",[[141,-2.6],[145,-4.5],[147.8,-6],[147,-7],[150.5,-10.5],[147,-10],[144,-7.7],[141,-9]]],
["New Zealand",[[172.7,-34.4],[175.5,-36.7],[178.5,-37.7],[177,-39.5],[175.3,-41.6],[174.7,-39.8],[174.7,-38]],[[172.7,-40.5],[174.3,-41.7],[170.5,-45.9],[168.3,-46.6],[166.5,-46],[171,-42]]]
];
const binNoCases=[
["Turkmenistan",[[53,42],[56,41.3],[57,41.3],[61,41.2],[62,40],[66.5,37.3],[64,37],[61,35.6],[61,36.6],[54,37.3],[53.5,40]]],
["North Korea",[[124.3,40],[125,37.8],[126.2,37.7],[128.3,38.5],[127.5,39.7],[129.7,41],[130.7,42.3],[128,41.5],[126,41]]]
];
const binNotApplicable=[
["Western Sahara",[[-17,21],[-13,27.7],[-8.7,27.7],[-8.7,27.3],[-8.7,26],[-12,26],[-12,23.5],[-13,23],[-13,21.3]]],
["Kashmir",[[74.9,37.3],[78,35.5],[79,33],[78.5,32.5],[75,32.3],[74,34],[77,35.5]]],
["Falkland Islands",[[-61,-51.5],[-58,-51.3],[-59,-52.2],[-61,-52]]],
["Seram",[[128,-3],[130.5,-3],[130,-3.8]]],
["New Britain",[[148.5,-5.6],[152,-4.2],[151,-6]]],
["Bougainville",[[154.6,-5.5],[155.8,-6.8],[155,-6.5]]],
["Visayas",[[122,11.6],[123,10.8],[122.9,9.5],[122.2,10.2]]],
["Palawan",[[117.3,8.5],[119.5,11.3],[119,10.3]]],
["New Caledonia",[[164,-20],[167,-22.4],[166.5,-22.2]]],
["Fiji",[[177.3,-17.5],[178.6,-17.6],[178,-18.3]]]
];
const lakes=[
[[-92,46.7],[-88,48.5],[-85,47.9],[-84.7,46.5],[-87,46.5]],
[[-87.8,42],[-87,46],[-85,46],[-86.3,43]],
[[-84.5,46],[-81,46],[-80,44.5],[-82,43],[-83.5,44]],
[[-83.4,41.7],[-79,42.8],[-79.2,43],[-83,42.5]],
[[-79.7,43.3],[-76.3,43.5],[-76.3,44.1],[-79,43.9]],
[[31.8,-0.5],[34,-0.3],[34,-2.5],[32,-2.7]],
[[-124,66],[-118,66.8],[-120,65.5]],
[[-117,61],[-110,62.8],[-113,62],[-115,60.9]],
[[-111,59],[-106,59.3],[-109,58.8]],
[[-103,57.5],[-102,56],[-102.5,57]],
[[-98,53.7],[-97,50.5],[-96.3,51],[-98.5,52.5]],
[[28.5,-3.5],[29.5,-3.6],[30.8,-8],[30,-7.5]]
];
// Tiny island groups shown only as grey specks
const specks=[[-91,-0.5],[-90.4,-0.7],[-109.4,-27],[-80,-33.6],[-78.8,-33.6],[-25,37.8],[-28,38.5],[-16,28.3],[-14,28.6],[-17,28.7],[-15.5,28],[-24,15.5],[-23.5,15],[-24.5,16.7],[-8,62],[-7,62.2],[-1,60.3],[-3,59],[-6.5,57.8],[-77.5,24.5],[-76,25],[-75,23],[-78,26.6],[-73.5,21.5],[-72,21.7],[-64.7,32.3],[-61,15.5],[-61,14.6],[-61.5,16.2],[-61,13.2],[-61.7,12.1],[-61.3,10.4],[-62,17.2],[-63,18.2],[-70,12.5],[-69,12.2],[-68.3,12.2],[7,0.3],[8.7,3.5],[5.6,-1.4],[-5.7,-16],[-14.4,-8],[43.4,-11.7],[44.3,-12.2],[45.1,-12.8],[55.5,-21],[57.5,-20.3],[55.5,-4.6],[46.3,-9.4],[53,12.5],[54,12.6],[73,4],[73.5,6],[73.3,1],[72.5,-7.3],[92.7,12.5],[92.6,11],[93,8],[125,-3.5],[128,-3.6],[129.8,-3.2],[132,-5.5],[134.5,-6],[131.5,-7.8],[127.5,-0.6],[126,3.5],[122,-7],[120,-10],[117,-8.4],[116,-2.8],[125.5,12],[124,11],[121,13],[122.5,12.3],[119.8,15.5],[124.5,10],[121.5,19.5],[122,20.5],[127.8,26.5],[129,28.5],[124.3,24.4],[130.5,29.5],[142,27],[145.7,15.2],[145.8,16.5],[145.7,18],[145.5,19.5],[144.8,13.4],[134.5,7.5],[138,9.5],[151.8,7.4],[158.2,6.9],[163,5.3],[171,7],[168,9.5],[173,1.4],[159,-8],[160.5,-9.5],[162,-10.5],[157,-8],[158,-8.4],[159.8,-9],[161,-9.8],[167,-15.5],[167.3,-16],[168,-17],[168.3,-17.7],[169,-19],[165,-21],[167,-22],[179,-16.7],[180,-17],[-175.5,-21],[-172,-13.8],[-170,-14.3],[159,-31.5],[147,-2],[150,-2.5],[152,-3.5],[143.7,-3.5],[151,-9.5],[155,-6],[-149,-17.6],[-140,-9],[-157,-21],[146,43.9],[148,45.3],[150.5,46.2],[152.5,47.5],[154.5,49],[155.5,50.3],[148,44.5],[149,45.5],[151,46.8],[153.3,48.3],[168,54],[166,55],[-60,46],[-62.5,49.4],[-63,46.4],[-61.5,45.8],[-65,18.4],[-59.5,13.2],[-81.2,19.3],[-80,21.7],[-75,20],[-78.7,21.6],[-82.8,21.6],[-36.5,-54.3],[-37,-54.5],[-26.5,-57.5],[69,-49],[70,-49.4],[52,-46.5],[37.7,-46.7],[-90,-0.4],[-71.2,21.5],[15,38.6],[3,39.6],[1.5,38.9],[4,40],[25,35.3],[24,35.4],[27.5,36.4],[26,38.2],[23,38.9],[19.7,39.6],[25.8,40],[18,57.5],[22.5,58.5],[16.5,56.8],[11,55.4],[12.3,55.4],[15,55.1],[19,69.8],[15,68.3],[13.5,68],[-2,49.3],[-1.3,50.7],[-4.3,53.3],[-6,56.7],[34,27.5],[37,24],[40,20],[41.5,16.5],[42.2,14],[53.9,12.5],[49.8,26.5]];

// ---------- SCALES ----------
const svg=d3.select("#c");
const binColors=["#016d92","#0b8ccd","#0aa6e6","#55c5f5","#96dbf6","#fde6ae","#a8a8a8"];
const bins=[binHighest,binHigh,binMid,binLow,binLowest,binNoCases,binNotApplicable];
const projection=d3.geoMercator().scale(176.5).translate([597.5,436]);
const iconProjection=d3.geoMercator().scale(10.5).translate([69,196]);
const ringPath=p=>d3.line().x(d=>p(d)[0]).y(d=>p(d)[1]);

svg.append("rect").attr("width",1200).attr("height",675).attr("fill","#fff");
svg.append("rect").attr("y",63).attr("width",1200).attr("height",609).attr("fill","#e8e8e8");
svg.append("clipPath").attr("id","mapClip").append("rect").attr("y",63).attr("width",1200).attr("height",609);

const mapG=svg.append("g").attr("clip-path","url(#mapClip)");
const line=ringPath(projection);
bins.forEach((bin,i)=>{
  mapG.append("g").attr("fill",binColors[i]).attr("stroke",i===0?"#4e7f95":"#72858f").attr("stroke-width",i===0?0.9:1.25).attr("stroke-linejoin","round")
   .selectAll("path").data(bin).join("path")
   .attr("d",c=>c.slice(1).map(r=>line(r)+"Z").join(""));
});
mapG.append("g").attr("fill","#e8e8e8").attr("stroke","#72858f").attr("stroke-width",1)
  .selectAll("path").data(lakes).join("path").attr("d",r=>line(r)+"Z");
mapG.append("g").attr("fill","#757b80").selectAll("circle").data(specks).join("circle")
  .attr("cx",d=>projection(d)[0]).attr("cy",d=>projection(d)[1]).attr("r",1.15);

// ---------- HEADER ----------
const text=(t,x,y,size,fill,opts={})=>{const e=svg.append("text").attr("x",x).attr("y",y).attr("font-size",size).attr("fill",fill).text(t);
  if(opts.bold)e.attr("font-weight","bold"); if(opts.anchor)e.attr("text-anchor",opts.anchor); if(opts.ls)e.attr("letter-spacing",opts.ls); return e;};
text(titleText,51,32,21.6,"#444",{bold:true});
text(updatedText,52,47,10.7,"#444");
const navX=[752,900,1062],navFill=["#1b8fc6","#444","#444"];
navItems.forEach((n,i)=>text(n,navX[i],37.5,22,navFill[i],{bold:true,ls:0.95}));
svg.append("rect").attr("x",752).attr("y",42).attr("width",105).attr("height",3.2).attr("fill","#1b8fc6");

// ---------- LEFT PANEL ----------
svg.append("rect").attr("x",22.5).attr("y",156).attr("width",187).attr("height",494).attr("rx",5).attr("fill","#fff").attr("stroke","#d6d6d6");
const blue="#0b90d6",pale="#cfeafa";
svg.append("rect").attr("x",33).attr("y",167).attr("width",78).attr("height",80).attr("rx",4).attr("fill",blue);
svg.append("rect").attr("x",120.5).attr("y",166.5).attr("width",78.5).attr("height",81.5).attr("rx",4).attr("fill","#f6f6f6").attr("stroke","#cccccc");
const iconLine=ringPath(iconProjection);
svg.append("clipPath").attr("id","iconClip").append("rect").attr("x",42).attr("y",177).attr("width",58).attr("height",30);
const iconG=svg.append("g").attr("fill","#bfe3f7").attr("clip-path","url(#iconClip)");
bins.forEach(bin=>iconG.append("g").selectAll("path").data(bin).join("path").attr("d",c=>c.slice(1).map(r=>iconLine(r)+"Z").join("")));
text("Choropleth",72,223.5,12,pale,{anchor:"middle"});
text("Map",72,238.5,12,pale,{anchor:"middle"});
const bubbleX=[157,141,170,144,173,170,179,160,152,182],bubbleY=[187,193,198,182,181,188,188,198,200,195],bubbleR=[8.5,6,6,3,2,3,2,2,3,3];
const bubbleC=["#5a6f8a","#8593a6","#7a8ea2","#cfcfcf","#a9a9a9","#cccccc","#c4c4c4","#98a4ac","#d2d2d2","#dddddd"];
svg.append("g").selectAll("circle").data(bubbleX).join("circle").attr("cx",d=>d).attr("cy",(d,i)=>bubbleY[i]).attr("r",(d,i)=>bubbleR[i]).attr("fill",(d,i)=>bubbleC[i]);
text("Bubble",160,223.5,12,"#222",{anchor:"middle"});
text("Map",160,238.5,12,"#222",{anchor:"middle"});
svg.append("rect").attr("x",116).attr("y",253.5).attr("width",81).attr("height",39).attr("rx",3).attr("fill","#fff").attr("stroke","#dcdcdc");
svg.append("rect").attr("x",35).attr("y",253).attr("width",77).attr("height",40).attr("rx",3).attr("fill",blue);
text("Cases",73,278,13,pale,{anchor:"middle"});
text("Deaths",156,278,13,"#555",{anchor:"middle"});
svg.append("rect").attr("x",32.5).attr("y",298.5).attr("width",166.5).attr("height",40).attr("rx",4).attr("fill","#fff").attr("stroke","#cfcfcf");
text("Total",44,323,13,"#444");
svg.append("path").attr("d","M173 315.5L179 321L185 315.5").attr("fill","none").attr("stroke","#c4c4c4").attr("stroke-width",2);
text(statValues[0],199,384,27.5,"#444",{bold:true,anchor:"end"});
text(statLabels[0],199,401,11.5,"#666",{anchor:"end"});
text(statValues[1],198,503,21,"#444",{bold:true,anchor:"end"});
text(statLabels[1],199,519,11.5,"#666",{anchor:"end"});
text(statValues[2],199,620,21.6,"#444",{bold:true,anchor:"end"});
text(statLabels[2],199,636,11.5,"#666",{anchor:"end"});

const sx=d3.scaleLinear().domain([0,12]).range([32,199]);
const syC=d3.scaleLinear().domain([0,100]).range([465,422]);
const syD=d3.scaleLinear().domain([0,100]).range([582.7,540]);
svg.append("path").attr("d",d3.line().x((d,i)=>sx(i)).y(d=>syC(d)).curve(d3.curveMonotoneX)(trendCases)).attr("fill","none").attr("stroke","#1b8cbf").attr("stroke-width",2);
svg.append("path").attr("d",d3.line().x((d,i)=>sx(i)).y(d=>syD(d)).curve(d3.curveMonotoneX)(trendDeaths)).attr("fill","none").attr("stroke","#c0713f").attr("stroke-width",2);

// ---------- MAP CONTROLS ----------
const box=(x,y,w,h)=>svg.append("rect").attr("x",x).attr("y",y).attr("width",w).attr("height",h).attr("rx",4).attr("fill","#fff").attr("stroke","#d4d4d4").attr("stroke-width",1.3);
box(1138.5,86,38.5,77);
svg.append("line").attr("x1",1138).attr("x2",1177).attr("y1",123.5).attr("y2",123.5).attr("stroke","#cfcfcf").attr("stroke-width",1.3);
svg.append("path").attr("d","M1152 105.5H1164M1158 99.5V111.5M1152 144.5H1164").attr("stroke","#444").attr("stroke-width",2.4).attr("fill","none");
box(1138.5,175,38.5,38.5);
box(1138.5,225.5,38.5,39);
const globe=svg.append("g").attr("transform","translate(1158,194)");
globe.append("circle").attr("r",10.5).attr("fill","#3d3d3d");
globe.append("path").attr("d","M-10.5 -5H10.5M-10.5 5H10.5M0 -10.5C-7 -6 -7 6 0 10.5C7 6 7 -6 0 -10.5").attr("fill","none").attr("stroke","#fff").attr("stroke-width",1);
svg.append("clipPath").attr("id","ringClip").append("circle").attr("cx",1158).attr("cy",245).attr("r",15);
svg.append("defs").append("linearGradient").attr("id","ringGrad").attr("x1",0).attr("x2",0).attr("y1",0).attr("y2",1)
  .selectAll("stop").data([["0","#3fa9dc"],["1","#a5def6"]]).join("stop").attr("offset",d=>d[0]).attr("stop-color",d=>d[1]);
svg.append("circle").attr("cx",1158).attr("cy",245).attr("r",15).attr("fill","url(#ringGrad)");
svg.append("g").attr("clip-path","url(#ringClip)").selectAll("circle").data([3,7,11,15,19]).join("circle")
  .attr("cx",1158).attr("cy",262).attr("r",d=>d).attr("fill","none").attr("stroke","#fff").attr("stroke-width",1.3);

// ---------- FOOTER ----------
svg.append("circle").attr("cx",1065).attr("cy",621).attr("r",10.5).attr("fill","#3c3c3c");
svg.append("path").attr("d","M1065 615V624M1061.5 620.5L1065 624.5L1068.5 620.5M1060.5 626.5H1069.5").attr("stroke","#fff").attr("stroke-width",1.3).attr("fill","none");
text("Download Map Data",1080,625,10.7,"#444");
text("Source: World Health Organization",1178,648,10.8,"#444",{anchor:"end"});
</script></body></html>
